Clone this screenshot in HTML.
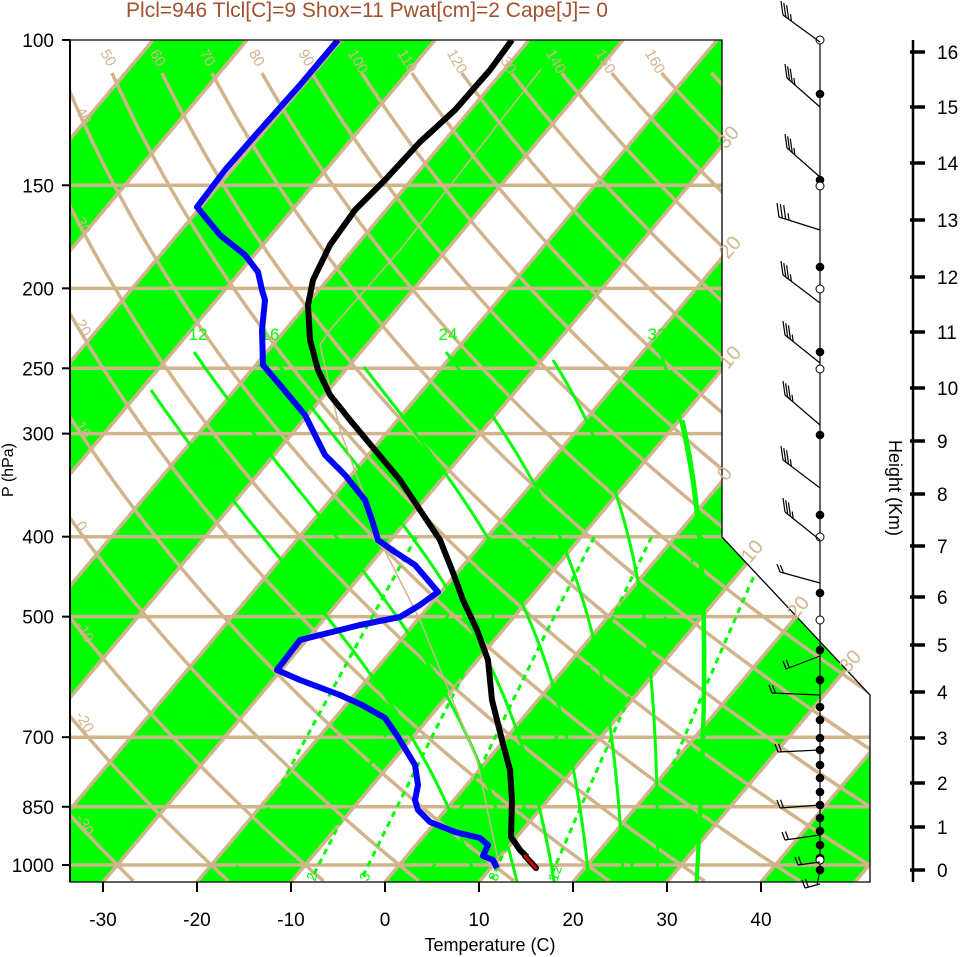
<!DOCTYPE html>
<html><head><meta charset="utf-8"><style>
html,body{margin:0;padding:0;background:#fff}
svg{display:block;font-family:"Liberation Sans",sans-serif}
</style></head><body>
<svg id="s" width="961" height="957" viewBox="0 0 961 957" xmlns="http://www.w3.org/2000/svg">
<defs><clipPath id="cp"><path d="M70,40 L722,40 L722,537 L870,695 L870,882 L70,882 Z"/></clipPath></defs>
<g id="plot" clip-path="url(#cp)"></g>
<path d="M70,40 L722,40 L722,537 L870,695 L870,882 L70,882 Z" fill="none" stroke="#000" stroke-width="1.3"/>
<g id="over"></g>
<text x="367" y="17" text-anchor="middle" font-size="21" fill="#a0522d">Plcl=946 Tlcl[C]=9 Shox=11 Pwat[cm]=2 Cape[J]= 0</text>
<text x="490" y="951" text-anchor="middle" font-size="18">Temperature (C)</text>
<text transform="translate(13,470) rotate(-90)" text-anchor="middle" font-size="16">P (hPa)</text>
<text transform="translate(889,488) rotate(90)" text-anchor="middle" font-size="18">Height (Km)</text>
</svg>
<script>
var NS="http://www.w3.org/2000/svg";
var plot=document.getElementById('plot'),over=document.getElementById('over');
function el(par,tag,at,txt){var e=document.createElementNS(NS,tag);for(var k in at)e.setAttribute(k,at[k]);if(txt!==undefined)e.textContent=txt;par.appendChild(e);return e;}
function Y(p){return 865-358.3*Math.log(1000/p);}
function P(y){return 1000*Math.exp(-(865-y)/358.3);}
function X(T,y){return 385+9.4*T+0.841*(882-y);}
function Tof(x,y){return (x-385-0.841*(882-y))/9.4;}
var TAN="#d2b48c",GRN="#00ff00";
function pts(a){return a.map(function(q){return q[0].toFixed(1)+","+q[1].toFixed(1)}).join(" ");}
for(var T0=-120;T0<=60;T0+=20){
 var a=[[X(T0,882),882],[X(T0+10,882),882],[X(T0+10,40),40],[X(T0,40),40]];
 el(plot,'polygon',{points:pts(a),fill:GRN});
}
for(var T=-130;T<=60;T+=10){el(plot,'line',{x1:X(T,882),y1:882,x2:X(T,40),y2:40,stroke:TAN,'stroke-width':3.5});}
[150,200,250,300,400,500,700,850,1000].forEach(function(p){var y=Y(p);el(plot,'line',{x1:70,y1:y,x2:870,y2:y,stroke:TAN,'stroke-width':3.5});});
for(var th=-30;th<=200;th+=10){var a=[];for(var y=73;y<=884;y+=8){var p=P(y);var Tk=(th+273.15)*Math.pow(p/1000,0.286);a.push([X(Tk-273.15,y),y]);}
 el(plot,'polyline',{points:pts(a),fill:'none',stroke:TAN,'stroke-width':3.5});}
function es(Tc){return 6.112*Math.exp(17.67*Tc/(Tc+243.5));}
function dTdp(Tc,p){var Tk=Tc+273.15,e=es(Tc),rs=0.622*e/(p-e),L=2.5e6,Rd=287,cp=1005;
 return (Rd*Tk+L*rs)/(p*(cp+L*L*rs*0.622/(Rd*Tk*Tk)));}
[[151,390],[194,352],[269,352],[364,367],[446,352],[553,360],[660,352],[683,420]].forEach(function(s){
 var y=s[1],p=P(y),Tc=Tof(s[0],y),a=[[s[0],y]];
 while(p<1060){var dp=2;Tc+=dTdp(Tc,p)*dp;p+=dp;var yy=Y(p);a.push([X(Tc,yy),yy]);}
 el(plot,'polyline',{points:pts(a),fill:'none',stroke:GRN,'stroke-width':3});
});
[1,2,3,5,8,12,20].forEach(function(w){var a=[];for(var y=537;y<=884;y+=6){var p=P(y);var e=w*p/(622+w);var l=Math.log(e/6.112);var Tc=243.5*l/(17.67-l);a.push([X(Tc,y),y]);}
 el(plot,'polyline',{points:pts(a),fill:'none',stroke:GRN,'stroke-width':3,'stroke-dasharray':'6,5'});});
el(plot,'polyline',{points:"541,69 470,160 400,250 330,330 320,345 340,430 383,547 420,620 477,760 500,870",fill:'none',stroke:TAN,'stroke-width':1.5});
var tl=[50,60,70,80,90,100,110,120,130,140,150,160];
tl.forEach(function(v,i){var x=100+i*49.5;el(plot,'text',{transform:'translate('+x+',53) rotate(60)','font-size':15,fill:TAN},v);});
[[40,111],[30,221],[20,323],[10,425],[0,525],[-10,625],[-20,715],[-30,818]].forEach(function(q){el(plot,'text',{transform:'translate(75,'+q[1]+') rotate(60)','font-size':15,fill:TAN},q[0]);});
[[30,726,150],[20,728,260],[10,728,370],[0,726,482]].forEach(function(q){el(over,'text',{transform:'translate('+q[1]+','+q[2]+') rotate(-50)','font-size':20,fill:TAN},q[0]);});
[[10,750,564],[20,796,620],[30,848,674]].forEach(function(q){el(over,'text',{transform:'translate('+q[1]+','+q[2]+') rotate(-50)','font-size':20,fill:TAN},q[0]);});
[[12,198],[16,270],[24,448],[32,657]].forEach(function(q){el(plot,'text',{x:q[1],y:340,'text-anchor':'middle','font-size':17,fill:GRN},q[0]);});
[[2,315],[3,368],[8,497],[12,557]].forEach(function(q){el(plot,'text',{transform:'translate('+q[1]+',882) rotate(-70)','font-size':14,fill:GRN},q[0]);});
el(plot,'polyline',{points:"338,40 300,85 260,130 225,170 197,207 220,235 245,255 258,272 262,290 265,300 262,330 263,365 280,385 305,415 325,455 345,475 365,500 372,520 378,540 395,552 415,565 438,592 420,605 400,617 360,625 300,640 277,670 300,680 340,695 362,705 385,718 398,737 415,765 418,785 415,800 418,810 430,822 455,832 480,838 488,845 483,856 493,860 497,868",fill:'none',stroke:'#0000ff','stroke-width':6,'stroke-linejoin':'round'});
el(plot,'polyline',{points:"512,40 490,70 455,110 420,142 385,180 355,210 330,245 313,280 308,305 310,340 318,370 330,395 350,420 375,450 400,480 420,510 440,540 452,570 463,600 477,630 488,660 492,700 502,740 510,770 512,800 511,837 520,850 527,857",fill:'none',stroke:'#000','stroke-width':6,'stroke-linejoin':'round'});
el(plot,'line',{x1:525,y1:856,x2:536,y2:868,stroke:'#000','stroke-width':6,'stroke-linecap':'round'});
el(plot,'line',{x1:525,y1:856,x2:536,y2:868,stroke:'#cc0000','stroke-width':3,'stroke-linecap':'round'});
[100,150,200,250,300,400,500,700,850,1000].forEach(function(p){var y=Y(p);el(over,'line',{x1:62,y1:y,x2:70,y2:y,stroke:'#000','stroke-width':2});el(over,'text',{x:54,y:y+7,'text-anchor':'end','font-size':19},p);});
for(var t=-30;t<=40;t+=10){var x=385+9.4*t;el(over,'line',{x1:x,y1:882,x2:x,y2:892,stroke:'#000','stroke-width':2});el(over,'text',{x:x,y:926,'text-anchor':'middle','font-size':19},t);}
el(over,'line',{x1:70,y1:40,x2:70,y2:882,stroke:'#000','stroke-width':2});
el(over,'line',{x1:913,y1:40,x2:913,y2:882,stroke:'#000','stroke-width':2.5});
var hy=[870,827,783,738,692,645,597,546,494,441,388,332,277,220,163,107,52];
hy.forEach(function(y,i){el(over,'line',{x1:910,y1:y,x2:925,y2:y,stroke:'#000','stroke-width':3.5});el(over,'text',{x:937,y:y+7,'font-size':19},i);});
el(over,'polyline',{points:"820,40 820,870 817,885",fill:'none',stroke:'#000','stroke-width':1.2});
[94,180,267,352,435,515,593,650,680,707,720,738,750,765,778,792,805,818,831,845,858,870].forEach(function(y){el(over,'circle',{cx:820,cy:y,r:4.3,fill:'#000'});});
[40,186,289,369,537,620,860].forEach(function(y){el(over,'circle',{cx:820,cy:y,r:4,fill:'#fff',stroke:'#000','stroke-width':1});});
function barb(x0,y0,x1,y1,n,fx,fy){el(over,'line',{x1:x0,y1:y0,x2:x1,y2:y1,stroke:'#000','stroke-width':1.2});
 var dx=(x0-x1),dy=(y0-y1),L=Math.hypot(dx,dy);dx/=L;dy/=L;
 for(var i=0;i<n;i++){var px=x1+dx*i*3.5,py=y1+dy*i*3.5;var len=(i==n-1&&n>2)?0.5:1;el(over,'line',{x1:px,y1:py,x2:px+fx*len,y2:py+fy*len,stroke:'#000','stroke-width':1.2});}}
[[42,783,15],[107,787,78],[177,787,148],[230,779,217],[303,783,275],[363,785,335],[425,785,395],[488,783,460],[540,785,512]].forEach(function(b){barb(820,b[0],b[1],b[2],4,-2,-14);});
[[583,780,572],[656,786,669],[695,772,693],[750,778,752],[805,780,808],[835,785,840],[862,798,865],[884,805,888]].forEach(function(b){barb(820,b[0],b[1],b[2],2,-3,-8);});
</script>
</body></html>
